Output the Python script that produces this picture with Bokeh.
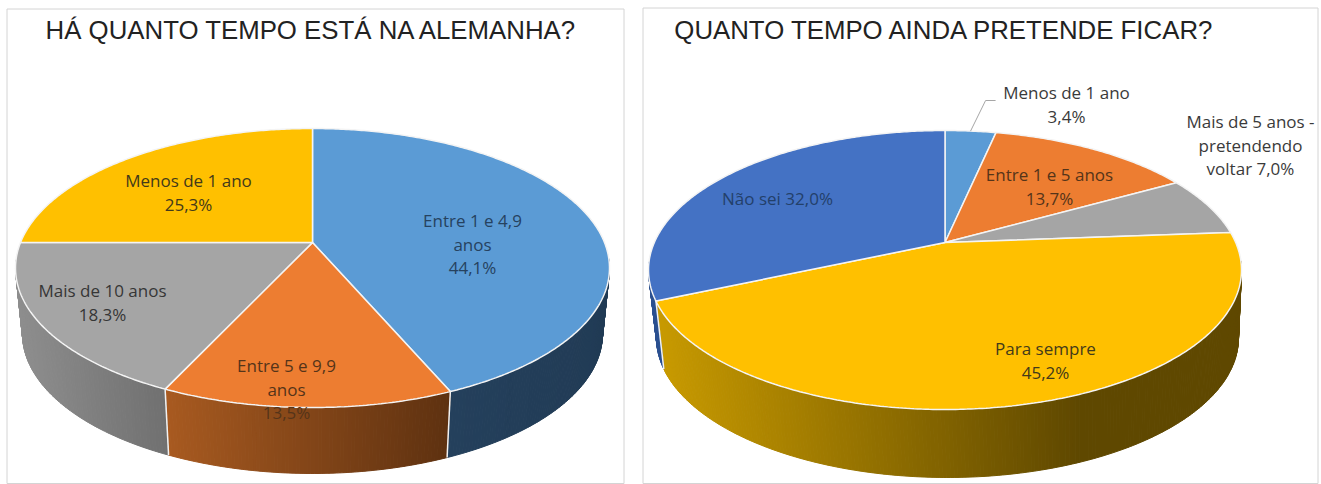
import numpy as np
from bokeh.plotting import figure
from bokeh.layouts import row
from bokeh.embed import file_html
from bokeh.resources import INLINE
from bokeh.core.properties import value

# ---- data ----
left_title = "HÁ QUANTO TEMPO ESTÁ NA ALEMANHA?"
left_categories = ["Entre 1 e 4,9 anos", "Entre 5 e 9,9 anos", "Mais de 10 anos", "Menos de 1 ano"]
left_values = [44.1, 13.5, 18.3, 25.3]

right_title = "QUANTO TEMPO AINDA PRETENDE FICAR?"
right_categories = ["Menos de 1 ano", "Entre 1 e 5 anos", "Mais de 5 anos - pretendendo voltar", "Para sempre", "Não sei"]
right_values = [3.4, 13.7, 7.0, 45.2, 32.0]

# ---- styles and layout ----
LEFT = dict(
    x0=0, x1=633, cx=312, ay=242, top=128, bot=407, rx=297, cx2=312, rx2=290, depth=66,
    face=["#5b9bd5", "#ed7d31", "#a5a5a5", "#ffc000"],
    wall=[("#24405c", "#213b55", 1), ("#a85a20", "#5e3110", 1), ("#8e8e8e", "#707070", 1), ("#a08000", "#806000", 1)],
    box=(6.5, 623.5, 8.5, 483),
    title_x=311.5,
    labels=[
        (["Entre 1 e 4,9", "anos", "44,1%"], 472, 220, "#26425f"),
        (["Entre 5 e 9,9", "anos", "13,5%"], 286, 365, "#553419"),
        (["Mais de 10 anos", "18,3%"], 102, 290, "#363636"),
        (["Menos de 1 ano", "25,3%"], 188, 180, "#433a1a"),
    ],
)
RIGHT = dict(
    x0=633, x1=1321, cx=944.5, ay=242, top=130, bot=409, rx=296.5, cx2=947, rx2=291, depth=68,
    face=["#5b9bd5", "#ed7d31", "#a5a5a5", "#ffc000", "#4472c4"],
    wall=[("#2a4a70", "#2a4a70", 1), ("#7a3a10", "#7a3a10", 1), ("#606060", "#606060", 1),
          ("#c89a00", "#5f4800", 0.72), ("#2b5090", "#2b5090", 1)],
    box=(642.5, 1317.5, 7.5, 483),
    title_x=944.5,
    labels=[
        (["Menos de 1 ano", "3,4%"], 1066, 92, "#3a3a3a"),
        (["Entre 1 e 5 anos", "13,7%"], 1049, 174, "#553419"),
        (["Mais de 5 anos -", "pretendendo", "voltar 7,0%"], 1250, 121, "#3a3a3a"),
        (["Para sempre", "45,2%"], 1045, 348, "#433a1a"),
        (["Não sei 32,0%"], 777, 198, "#23406a"),
    ],
)
LABEL_FONT = "Open Sans"
LABEL_SIZE = "17px"
LINE_STEP = 23.7


def lerp_hex(a, b, t):
    ca = [int(a[i:i + 2], 16) for i in (1, 3, 5)]
    cb = [int(b[i:i + 2], 16) for i in (1, 3, 5)]
    return "#%02x%02x%02x" % tuple(int(round(p + (q - p) * t)) for p, q in zip(ca, cb))


def project(theta, cfg):
    """Clockwise angle from the top -> screen point of a pie seen in perspective."""
    up, down = cfg["ay"] - cfg["top"], cfg["bot"] - cfg["ay"]
    k = (down - up) / (down + up)
    a = up * (1 + k)
    b = cfg["rx"] * np.sqrt(1 - k * k)
    u, v = np.sin(theta), np.cos(theta)
    w = 1 + k * v
    return cfg["cx"] + b * u / w, cfg["ay"] - a * v / w


def lower(x, y, cfg):
    return cfg["cx2"] + (x - cfg["cx"]) * cfg["rx2"] / cfg["rx"], y + cfg["depth"]


def pie(title, vals, cfg):
    p = figure(width=cfg["x1"] - cfg["x0"], height=484, output_backend="svg", toolbar_location=None,
               x_range=(cfg["x0"], cfg["x1"]), y_range=(484, 0),
               x_axis_location=None, y_axis_location=None, min_border=0,
               outline_line_color=None, background_fill_color="white", border_fill_color="white")
    p.grid.visible = False

    l, r, t, b = cfg["box"]
    p.line([l, l, r, r, l], [b, t, t, b, b], line_color="#d4d4d4", line_width=1)

    edges = np.cumsum([0.0] + list(vals)) / sum(vals) * 2 * np.pi
    wx, wy, wc = [], [], []
    sep_x, sep_y = [], []
    face_x, face_y = [], []
    for i in range(len(vals)):
        n = max(3, int((edges[i + 1] - edges[i]) / np.radians(0.6)))
        th = np.linspace(edges[i], edges[i + 1], n + 1)
        x, y = project(th, cfg)
        face_x.append([cfg["cx"]] + list(x))
        face_y.append([cfg["ay"]] + list(y))
        x2, y2 = lower(x, y, cfg)
        cy = (cfg["top"] + cfg["bot"]) / 2
        vis = y > cy - 8
        if vis.any():
            xa, xb = x[vis].min(), x[vis].max()
            c0, c1, hold = cfg["wall"][i]
            for j in range(n):
                if not (vis[j] or vis[j + 1]):
                    continue
                tt = ((x[j] + x[j + 1]) / 2 - xa) / max(xb - xa, 1) / hold
                c = lerp_hex(c0, c1, min(1, max(0, tt)))
                wx.append([x[j], x[j + 1], x2[j + 1], x2[j]])
                wy.append([y[j], y[j + 1], y2[j + 1], y2[j]])
                wc.append(c)
        if y[0] > cy:
            xs, ys = lower(x[0], y[0], cfg)
            sep_x.append([x[0], xs])
            sep_y.append([y[0], ys])
    p.patches(wx, wy, fill_color=wc, line_color=wc, line_width=1)
    if sep_x:
        p.multi_line(sep_x, sep_y, line_color="#f2f2f2", line_width=1.5)
    p.patches(face_x, face_y, fill_color=cfg["face"], line_color="#f4f4f4", line_width=1.5)

    p.text([cfg["title_x"]], [29], text=[title], text_font=value("Liberation Sans"),
           text_font_size="25.8px", text_color="#222222", text_align="center", text_baseline="middle")

    tx, ty, ts, tc = [], [], [], []
    for lines, lx, ly, col in cfg["labels"]:
        for m, s in enumerate(lines):
            tx.append(lx); ty.append(ly + m * LINE_STEP); ts.append(s); tc.append(col)
    p.text(tx, ty, text=ts, text_font=value(LABEL_FONT), text_font_size=LABEL_SIZE, text_color=tc,
           text_align="center", text_baseline="middle")
    return p


p_left = pie(left_title, left_values, LEFT)
p_right = pie(right_title, right_values, RIGHT)

# leader line of the smallest slice on the right
mid = (right_values[0] / 2) / sum(right_values) * 2 * np.pi
mx, my = project(mid, RIGHT)
p_right.line([mx, mx + 15, mx + 25], [my, 100, 100], line_color="#a6a6a6", line_width=1)

layout = row(p_left, p_right, spacing=0)
open("out.html", "w").write(file_html(layout, INLINE))
